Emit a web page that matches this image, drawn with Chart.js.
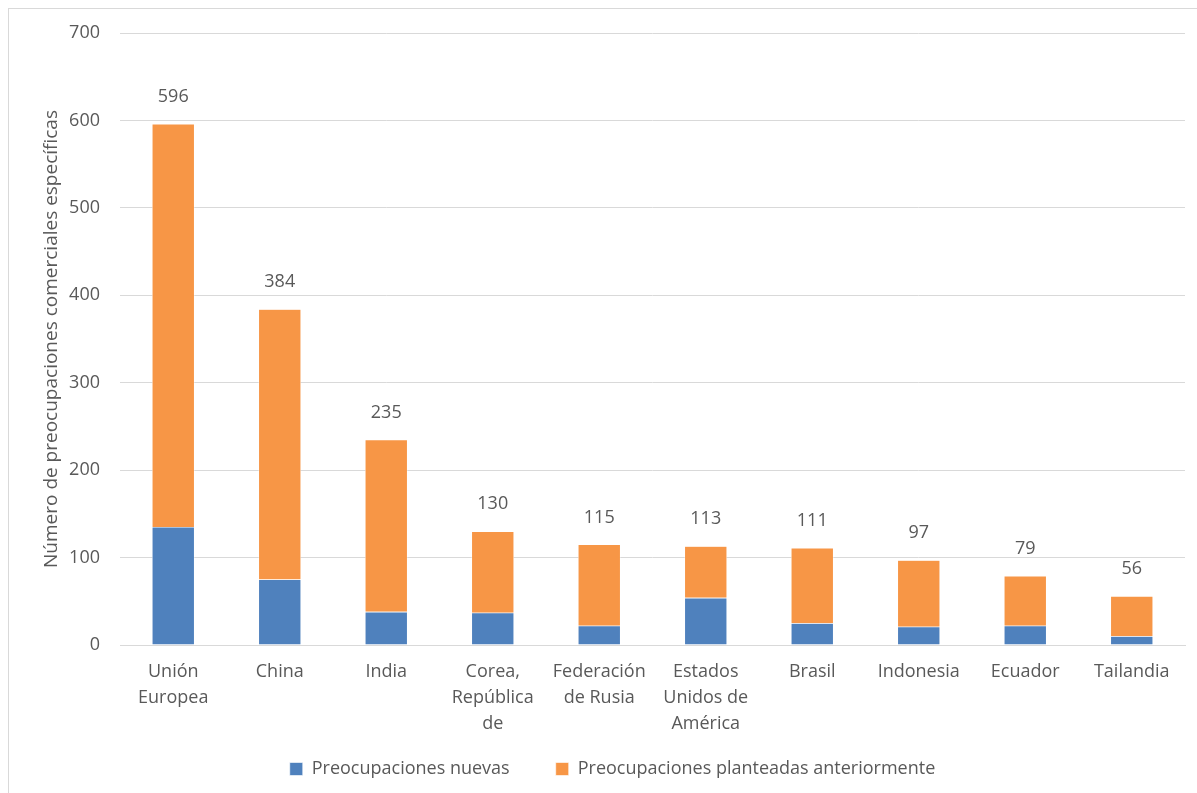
<!DOCTYPE html>
<html lang="es">
<head>
<meta charset="UTF-8">
<title>Preocupaciones comerciales específicas</title>
<style>
  body { margin: 0; background: #fff; }
  .wrap { position: relative; width: 1197px; height: 793px; }
  .frame { position: absolute; left: 8px; top: 8px; width: 1200px; height: 800px; border: 1px solid #d9d9d9; box-sizing: border-box; }
  canvas { position: absolute; left: 0; top: 0; }
</style>
</head>
<body>
<div class="wrap">
  <div class="frame"></div>
  <canvas id="chart" width="1197" height="793"></canvas>
</div>
<script src="https://cdn.jsdelivr.net/npm/chart.js"></script>
<script>
var categories = [
  ['Unión', 'Europea'], 'China', 'India', ['Corea,', 'República', 'de'],
  ['Federación', 'de Rusia'], ['Estados', 'Unidos de', 'América'],
  'Brasil', 'Indonesia', 'Ecuador', 'Tailandia'
];
var totals = [596, 384, 235, 130, 115, 113, 111, 97, 79, 56];
var nuevas = [135, 75, 38, 37, 22, 54, 25, 21, 22, 10];
var anteriores = totals.map(function (t, i) { return t - nuevas[i]; });
var yTicks = [0, 100, 200, 300, 400, 500, 600, 700];

var txt = '#595959';
var fontFam = '"Open Sans", "Liberation Sans", sans-serif';

// totales encima de cada barra
var totalLabels = {
  id: 'totalLabels',
  afterDatasetsDraw: function (chart) {
    var ctx = chart.ctx;
    var meta = chart.getDatasetMeta(1);
    ctx.save();
    ctx.font = '18px ' + fontFam;
    ctx.fillStyle = txt;
    ctx.textAlign = 'center';
    ctx.textBaseline = 'middle';
    meta.data.forEach(function (bar, i) {
      ctx.fillText(totals[i], bar.x, bar.y - 27);
    });
    ctx.restore();
  }
};

new Chart(document.getElementById('chart'), {
  type: 'bar',
  data: {
    labels: categories,
    datasets: [{
      label: 'Preocupaciones nuevas',
      data: nuevas,
      backgroundColor: '#4f81bd',
      borderColor: '#ffffff',
      borderWidth: 0.6,
      barPercentage: 0.4,
      categoryPercentage: 1
    }, {
      label: 'Preocupaciones planteadas anteriormente',
      data: anteriores,
      backgroundColor: '#f79646',
      borderColor: '#ffffff',
      borderWidth: 0.6,
      barPercentage: 0.4,
      categoryPercentage: 1
    }]
  },
  options: {
    responsive: false,
    animation: false,
    layout: { padding: { left: 40, right: 12, top: 33, bottom: 5 } },
    plugins: {
      legend: {
        position: 'bottom',
        labels: {
          color: txt,
          font: { size: 18, family: fontFam },
          boxWidth: 13,
          boxHeight: 13,
          padding: 46
        }
      },
      tooltip: { enabled: false }
    },
    scales: {
      x: {
        stacked: true,
        grid: { display: false },
        border: { color: '#d9d9d9', width: 1 },
        ticks: {
          color: txt,
          font: { size: 18, family: fontFam, lineHeight: 1.45 },
          padding: 6,
          maxRotation: 0
        },
        afterFit: function (s) {
          s.height = 69;
          s._computeLabelArea = function () {}; // no recortar la 3a línea
        }
      },
      y: {
        stacked: true,
        min: 0,
        max: 700,
        afterBuildTicks: function (s) {
          s.ticks = yTicks.map(function (v) { return { value: v }; });
        },
        grid: { color: '#d9d9d9', drawTicks: false },
        border: { display: false },
        ticks: {
          color: txt,
          font: { size: 18, family: fontFam },
          padding: 20
        },
        title: {
          display: true,
          text: 'Número de preocupaciones comerciales específicas',
          color: txt,
          font: { size: 19, family: fontFam },
          padding: { top: 0, bottom: 10 }
        },
        afterFit: function (s) { s.width = 80; }
      }
    }
  },
  plugins: [totalLabels]
});
</script>
</body>
</html>
